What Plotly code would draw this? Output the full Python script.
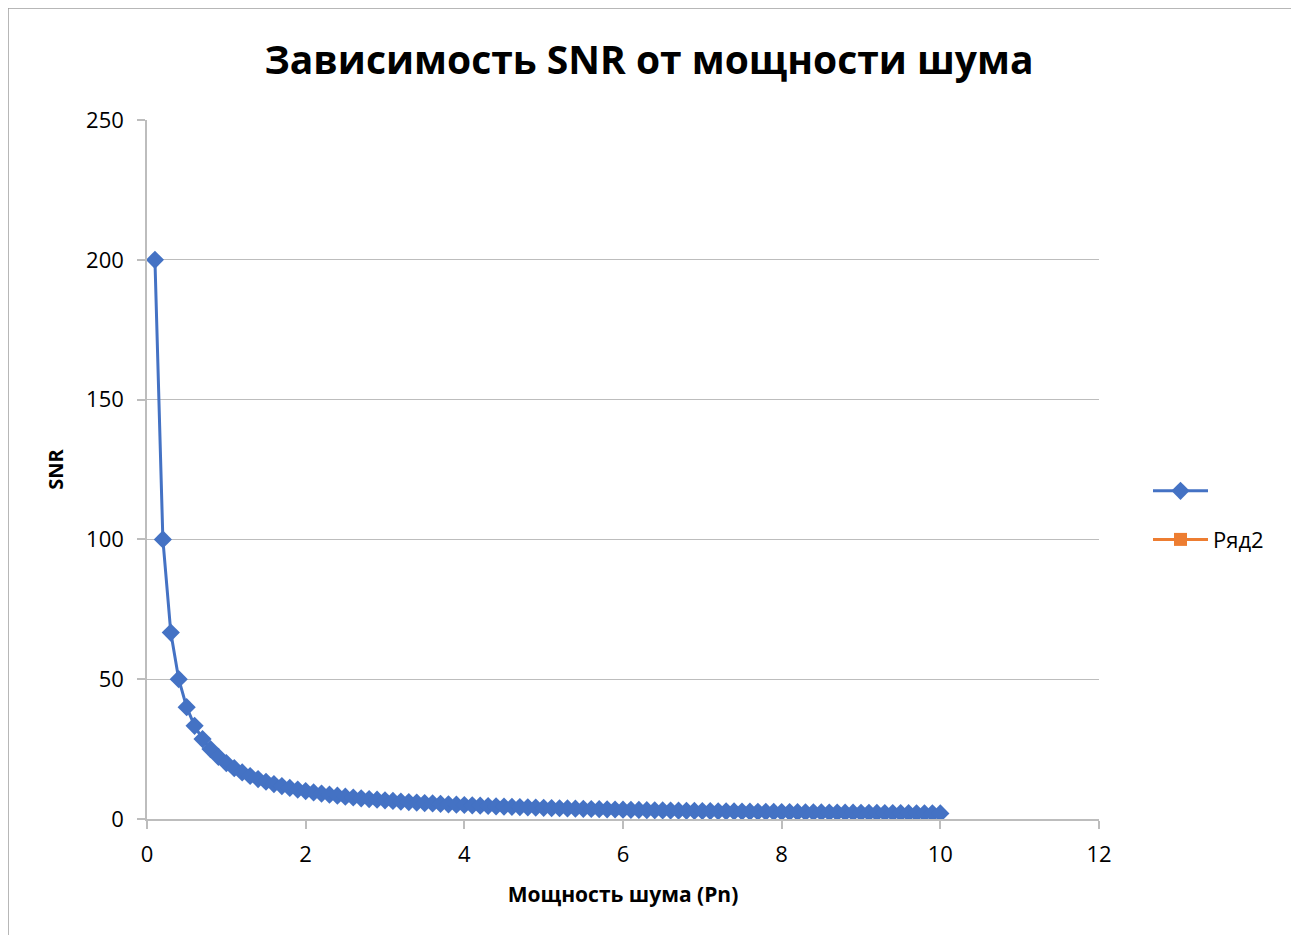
import plotly.graph_objects as go

# Noise power (Pn)
pn = [0.1, 0.2, 0.3, 0.4, 0.5, 0.6, 0.7, 0.8, 0.9, 1.0,
      1.1, 1.2, 1.3, 1.4, 1.5, 1.6, 1.7, 1.8, 1.9, 2.0,
      2.1, 2.2, 2.3, 2.4, 2.5, 2.6, 2.7, 2.8, 2.9, 3.0,
      3.1, 3.2, 3.3, 3.4, 3.5, 3.6, 3.7, 3.8, 3.9, 4.0,
      4.1, 4.2, 4.3, 4.4, 4.5, 4.6, 4.7, 4.8, 4.9, 5.0,
      5.1, 5.2, 5.3, 5.4, 5.5, 5.6, 5.7, 5.8, 5.9, 6.0,
      6.1, 6.2, 6.3, 6.4, 6.5, 6.6, 6.7, 6.8, 6.9, 7.0,
      7.1, 7.2, 7.3, 7.4, 7.5, 7.6, 7.7, 7.8, 7.9, 8.0,
      8.1, 8.2, 8.3, 8.4, 8.5, 8.6, 8.7, 8.8, 8.9, 9.0,
      9.1, 9.2, 9.3, 9.4, 9.5, 9.6, 9.7, 9.8, 9.9, 10.0]

# SNR values
snr = [200, 100, 66.67, 50, 40, 33.33, 28.57, 25, 22.22, 20,
       18.18, 16.67, 15.38, 14.29, 13.33, 12.5, 11.76, 11.11, 10.53, 10,
       9.52, 9.09, 8.70, 8.33, 8, 7.69, 7.41, 7.14, 6.90, 6.67,
       6.45, 6.25, 6.06, 5.88, 5.71, 5.56, 5.41, 5.26, 5.13, 5,
       4.88, 4.76, 4.65, 4.55, 4.44, 4.35, 4.26, 4.17, 4.08, 4,
       3.92, 3.85, 3.77, 3.70, 3.64, 3.57, 3.51, 3.45, 3.39, 3.33,
       3.28, 3.23, 3.17, 3.13, 3.08, 3.03, 2.99, 2.94, 2.90, 2.86,
       2.82, 2.78, 2.74, 2.70, 2.67, 2.63, 2.60, 2.56, 2.53, 2.5,
       2.47, 2.44, 2.41, 2.38, 2.35, 2.33, 2.30, 2.27, 2.25, 2.22,
       2.20, 2.17, 2.15, 2.13, 2.11, 2.08, 2.06, 2.04, 2.02, 2]

series2_x = [None]
series2_y = [None]

title_text = "Зависимость SNR от мощности шума"
x_title = "Мощность шума (Pn)"
y_title = "SNR"
series_names = [" ", "Ряд2"]

FONT = "Open Sans"
GRID = "#BDBDBD"

fig = go.Figure()
fig.add_trace(go.Scatter(
    x=pn, y=snr, mode="lines+markers", name=series_names[0], legendgroup="g1",
    line=dict(color="#4472C4", width=3),
    marker=dict(symbol="diamond", size=14, color="#4472C4"),
))
fig.add_trace(go.Scatter(
    x=series2_x, y=series2_y, mode="lines+markers", name=series_names[1], legendgroup="g2",
    line=dict(color="#ED7D31", width=3),
    marker=dict(symbol="square", size=13, color="#ED7D31"),
))

# page body has an 8px margin, so target positions are shifted by -8
OFF = 8
W, H = 1299, 935
L, R, T, B = 147 - OFF, 1099 - OFF, 120 - OFF, 819 - OFF
pw, ph = R - L, B - T

fig.update_layout(
    width=W, height=H,
    margin=dict(l=L, r=W - R, t=T, b=H - B),
    paper_bgcolor="white", plot_bgcolor="white",
    font=dict(family=FONT, color="#000000"),
    title=dict(text="<b>" + title_text + "</b>", x=(649 - OFF) / W, xanchor="center",
               y=1 - (60 - OFF) / H, yanchor="middle",
               font=dict(size=39, family=FONT, color="#000000")),
    xaxis=dict(range=[0, 12], tickvals=[0, 2, 4, 6, 8, 10, 12],
               showgrid=False, zeroline=False,
               showline=True, linecolor=GRID, linewidth=1.5,
               ticks="outside", ticklen=8, tickcolor=GRID, tickwidth=1.5,
               ticklabelstandoff=7,
               tickfont=dict(size=22, family=FONT),
               title=dict(text="<b>" + x_title + "</b>", font=dict(size=21, family=FONT), standoff=20)),
    yaxis=dict(range=[0, 250], tickvals=[0, 50, 100, 150, 200, 250],
               showgrid=True, gridcolor=GRID, gridwidth=1.2, zeroline=False,
               showline=True, linecolor=GRID, linewidth=1.5,
               ticks="outside", ticklen=8, tickcolor=GRID, tickwidth=1.5,
               ticklabelstandoff=9,
               tickfont=dict(size=22, family=FONT),
               title=dict(text="<b>" + y_title + "</b>", font=dict(size=20, family=FONT), standoff=17)),
    legend=dict(x=(1148 - OFF - L) / pw, y=(B - (470 - OFF)) / ph, xanchor="left", yanchor="top",
                font=dict(size=22, family=FONT), itemwidth=55, tracegroupgap=17,
                bgcolor="rgba(0,0,0,0)"),
    showlegend=True,
    shapes=[dict(type="rect", xref="paper", yref="paper",
                 x0=(8 - OFF - L) / pw, x1=(1293 - OFF - L) / pw,
                 y0=(B - 960) / ph, y1=(B - (8 - OFF)) / ph,
                 line=dict(color="#A0A0A0", width=1.5), fillcolor="rgba(0,0,0,0)",
                 layer="below")],
)

fig.write_html("out.html")
